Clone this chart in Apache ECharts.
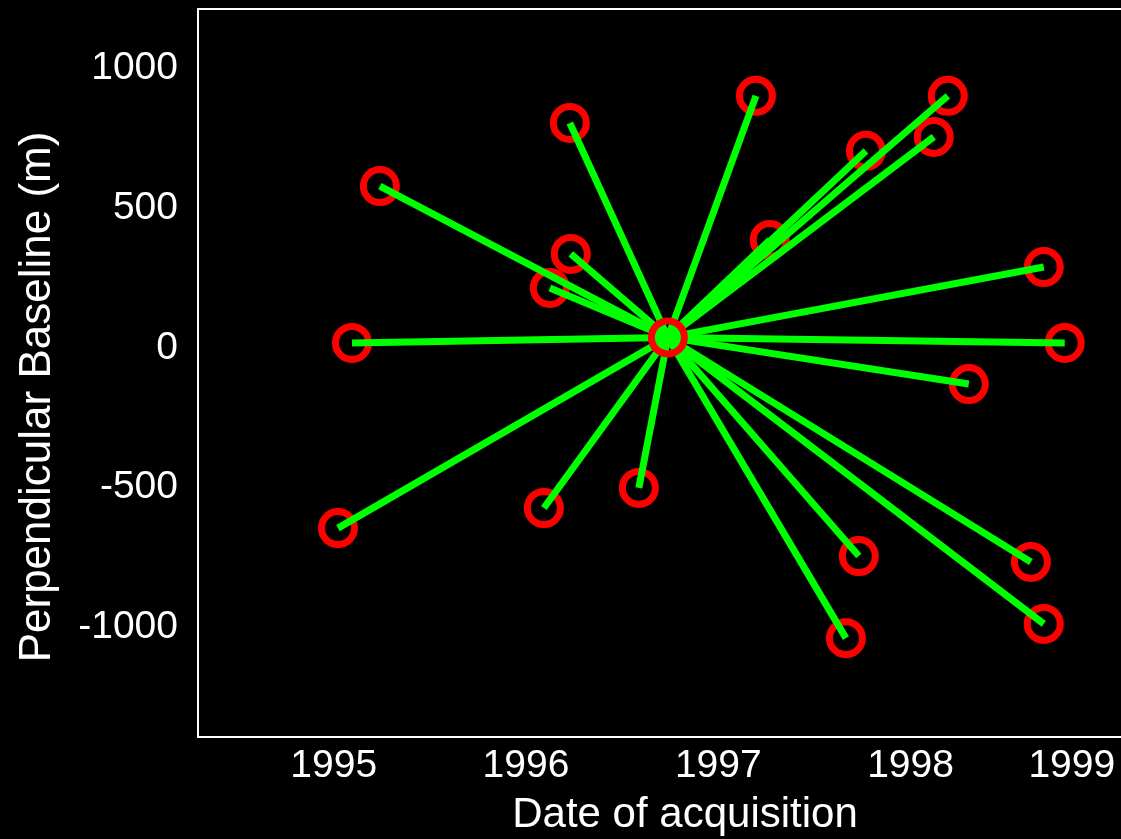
<!DOCTYPE html>
<html>
<head>
<meta charset="utf-8">
<script src="https://cdn.jsdelivr.net/npm/echarts@6/dist/echarts.min.js"></script>
<style>
html,body{margin:0;padding:0;background:#000;}
#chart{width:1121px;height:839px;}
</style>
</head>
<body>
<div id="chart"></div>
<script>
// Master acquisition (reference image)
const masterDate = [1996.738];
const masterBaseline = [20];
// Slave acquisitions
const slaveDates = [1995.240, 1996.228, 1997.196, 1998.194, 1997.768, 1998.121, 1997.268, 1996.233, 1996.124, 1995.095,
                    1998.693, 1998.802, 1998.303, 1995.022, 1996.093, 1996.587, 1997.731, 1997.664, 1998.626, 1998.693];
const slaveBaselines = [562, 788, 885, 885, 688, 738, 369, 319, 197, 0,
                        272, 0, -147, -663, -591, -519, -763, -1057, -784, -1006];
// Tick labels
const xTickValues = [1995, 1996, 1997, 1998, 1999];
const xTickLabels = ['1995', '1996', '1997', '1998', '1999'];
const yTickValues = [-1000, -500, 0, 500, 1000];
const yTickLabels = ['-1000', '-500', '0', '500', '1000'];

const FONT = 'Liberation Sans, Arial, sans-serif';
const chart = echarts.init(document.getElementById('chart'));

const slavePts = slaveDates.map((d, i) => [d, slaveBaselines[i]]);
const masterPt = [masterDate[0], masterBaseline[0]];
const linkData = slavePts.map(p => ({coords: [masterPt, p]}));

chart.setOption({
  backgroundColor: '#000',
  animation: false,
  grid: {left: 198, top: 9, right: -51, bottom: 102, outerBoundsMode: 'none', containLabel: false,
         show: true, borderColor: '#fff', borderWidth: 2, backgroundColor: 'transparent'},
  xAxis: {
    type: 'value', min: 1994.294, max: 1999.36, splitNumber: 5,
    axisLine: {show: false}, axisTick: {show: false}, splitLine: {show: false},
    name: 'Date of acquisition', nameLocation: 'middle', nameGap: 57,
    nameTextStyle: {color: '#fff', fontSize: 42, fontFamily: FONT},
    axisLabel: {
      showMinLabel: false, showMaxLabel: false, margin: 10,
      color: '#fff', fontSize: 39, fontFamily: FONT,
      formatter: function (v) {
        const i = xTickValues.findIndex(t => Math.abs(t - v) < 1e-6);
        if (i < 0) return '';
        if (i === xTickValues.length - 1) return '{last|' + xTickLabels[i] + '}';
        return xTickLabels[i];
      },
      rich: {last: {color: '#fff', fontSize: 39, fontFamily: FONT, padding: [0, 62, 0, 0]}}
    }
  },
  yAxis: {
    type: 'value', min: -1411, max: 1196, splitNumber: 5,
    axisLine: {show: false}, axisTick: {show: false}, splitLine: {show: false},
    name: 'Perpendicular Baseline (m)', nameLocation: 'middle', nameGap: 138,
    nameTextStyle: {color: '#fff', fontSize: 44, fontFamily: FONT, padding: [0, 48, 0, 0]},
    axisLabel: {
      showMinLabel: false, showMaxLabel: false, margin: 20,
      color: '#fff', fontSize: 39, fontFamily: FONT,
      formatter: function (v) {
        const i = yTickValues.findIndex(t => Math.abs(t - v) < 1e-6);
        return i < 0 ? '' : '{v|' + yTickLabels[i] + '}';
      },
      rich: {v: {color: '#fff', fontSize: 39, fontFamily: FONT, padding: [10, 0, 0, 0]}}
    }
  },
  series: [
    {
      type: 'scatter', z: 1, data: slavePts, symbol: 'circle', symbolSize: 33,
      itemStyle: {color: 'rgba(0,0,0,0)', borderColor: '#ff0000', borderWidth: 7, opacity: 1},
      emphasis: {disabled: true}
    },
    {
      type: 'lines', coordinateSystem: 'cartesian2d', z: 2, data: linkData,
      lineStyle: {color: '#00ff00', width: 7, opacity: 1, curveness: 0},
      emphasis: {disabled: true}
    },
    {
      type: 'scatter', z: 3, data: [masterPt], symbol: 'circle', symbolSize: 33,
      itemStyle: {color: 'rgba(0,0,0,0)', borderColor: '#ff0000', borderWidth: 7, opacity: 1},
      emphasis: {disabled: true}
    }
  ]
});
</script>
</body>
</html>
